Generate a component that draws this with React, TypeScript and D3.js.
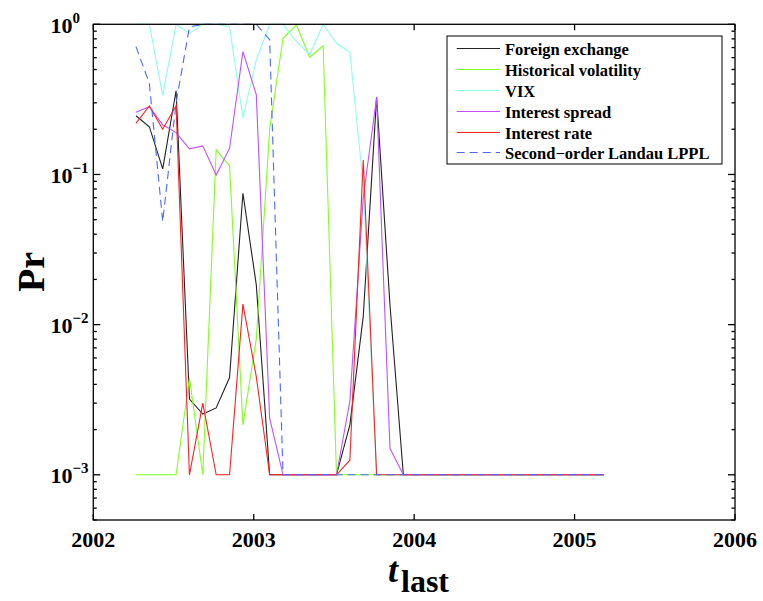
import React from "react";
import * as d3 from "d3";

const W = 763;
const H = 601;
const M = { left: 93.3, right: 735, top: 24.3, bottom: 520 };

const T0 = 2002.266;
const N = 36;
const times: number[] = Array.from({ length: N }, (_, i) => T0 + i / 12);

const foreignExchange = [0.246, 0.208, 0.109, 0.361, 0.00319, 0.00254, 0.00279, 0.00444, 0.075, 0.0184, 0.001, 0.001, 0.001, 0.001, 0.001, 0.001, 0.00215, 0.0113, 0.327, 0.0135, 0.001, 0.001, 0.001, 0.001, 0.001, 0.001, 0.001, 0.001, 0.001, 0.001, 0.001, 0.001, 0.001, 0.001, 0.001, 0.001];
const historicalVolatility = [0.001, 0.001, 0.001, 0.001, 0.0044, 0.001, 0.146, 0.114, 0.00215, 0.008, 0.2, 0.807, 0.99, 0.603, 0.72, 0.001, 0.001, 0.001, 0.001, 0.001, 0.001, 0.001, 0.001, 0.001, 0.001, 0.001, 0.001, 0.001, 0.001, 0.001, 0.001, 0.001, 0.001, 0.001, 0.001, 0.001];
const vix = [1, 1, 0.336, 1, 0.87, 1, 1, 0.96, 0.239, 0.58, 1, 1, 0.77, 0.63, 1, 0.747, 0.651, 0.085, 0.001, 0.001, 0.001, 0.001, 0.001, 0.001, 0.001, 0.001, 0.001, 0.001, 0.001, 0.001, 0.001, 0.001, 0.001, 0.001, 0.001, 0.001];
const interestSpread = [0.26, 0.283, 0.214, 0.19, 0.148, 0.155, 0.099, 0.149, 0.657, 0.34, 0.00238, 0.001, 0.001, 0.001, 0.001, 0.001, 0.0031, 0.07, 0.327, 0.0015, 0.001, 0.001, 0.001, 0.001, 0.001, 0.001, 0.001, 0.001, 0.001, 0.001, 0.001, 0.001, 0.001, 0.001, 0.001, 0.001];
const interestRate = [0.219, 0.286, 0.2, 0.287, 0.001, 0.003, 0.001, 0.001, 0.0137, 0.0045, 0.001, 0.001, 0.001, 0.001, 0.001, 0.001, 0.00125, 0.125, 0.001, 0.001, 0.001, 0.001, 0.001, 0.001, 0.001, 0.001, 0.001, 0.001, 0.001, 0.001, 0.001, 0.001, 0.001, 0.001, 0.001, 0.001];
const landauLPPL = [0.71, 0.405, 0.0485, 0.3, 0.96, 1, 1, 1, 1, 1, 0.79, 0.001, 0.001, 0.001, 0.001, 0.001, 0.001, 0.001, 0.001, 0.001, 0.001, 0.001, 0.001, 0.001, 0.001, 0.001, 0.001, 0.001, 0.001, 0.001, 0.001, 0.001, 0.001, 0.001, 0.001, 0.001];

const seriesNames = ["Foreign exchange", "Historical volatility", "VIX", "Interest spread", "Interest rate", "Second\u2212order Landau LPPL"];
const seriesValues = [foreignExchange, historicalVolatility, vix, interestSpread, interestRate, landauLPPL];
const seriesColors = ["#222222", "#80ff20", "#8cffe6", "#c050ff", "#ff2020", "#4a68ff"];
const seriesDash = [null, null, null, null, null, "8,5"];

const xTicks = [2002, 2003, 2004, 2005, 2006];
const yMajor = [1e-3, 1e-2, 1e-1, 1];
const yExps = ["\u22123", "\u22122", "\u22121", "0"];

export default function App() {
  const x = d3.scaleLinear().domain([2002, 2006]).range([M.left, M.right]);
  const y = d3.scaleLog().domain([5e-4, 1]).range([M.bottom, M.top]);

  const line = d3
    .line<number>()
    .x((_, i) => x(times[i]))
    .y((v) => y(v));

  const minor: number[] = [];
  for (let e = -4; e <= 0; e++) {
    for (let k = 2; k <= 9; k++) {
      const v = k * Math.pow(10, e);
      if (v >= 5e-4 && v < 1) minor.push(v);
    }
  }

  const font = "'Liberation Serif', 'Times New Roman', serif";
  const axisW = 1.3;

  const legX = 447;
  const legY = 36;
  const legW = 275;
  const legH = 128;
  const rowY = (i: number) => Math.round(48.3 + i * 20.8) + 0.5;

  return (
    <svg
      width={W}
      height={H}
      style={{ position: "absolute", left: 0, top: 0, background: "#fff", fontFamily: font }}
    >
      <rect x={0} y={0} width={W} height={H} fill="#fff" />
      {seriesValues.map((vals, si) => (
        <path
          key={si}
          d={line(vals) || ""}
          fill="none"
          stroke={seriesColors[si]}
          strokeWidth={1.1}
          strokeDasharray={seriesDash[si] || undefined}
        />
      ))}
      <rect
        x={M.left}
        y={M.top}
        width={M.right - M.left}
        height={M.bottom - M.top}
        fill="none"
        stroke="#000"
        strokeWidth={axisW}
      />
      {xTicks.map((t) => (
        <g key={t}>
          <line x1={x(t)} x2={x(t)} y1={M.bottom} y2={M.bottom - 6} stroke="#000" strokeWidth={axisW} />
          <line x1={x(t)} x2={x(t)} y1={M.top} y2={M.top + 6} stroke="#000" strokeWidth={axisW} />
          <text x={x(t)} y={547} textAnchor="middle" fontSize={22} fontWeight="bold">
            {t}
          </text>
        </g>
      ))}
      {yMajor.map((v, i) => (
        <g key={v}>
          <line x1={M.left} x2={M.left + 7} y1={y(v)} y2={y(v)} stroke="#000" strokeWidth={axisW} />
          <line x1={M.right} x2={M.right - 7} y1={y(v)} y2={y(v)} stroke="#000" strokeWidth={axisW} />
          <text x={50.5} y={y(v) + 8.5} fontSize={22} fontWeight="bold">
            10
            <tspan dy={-10} fontSize={15}>
              {yExps[i]}
            </tspan>
          </text>
        </g>
      ))}
      {minor.map((v) => (
        <g key={v}>
          <line x1={M.left} x2={M.left + 3.5} y1={y(v)} y2={y(v)} stroke="#000" strokeWidth={axisW} />
          <line x1={M.right} x2={M.right - 3.5} y1={y(v)} y2={y(v)} stroke="#000" strokeWidth={axisW} />
        </g>
      ))}
      <text
        transform={`translate(44, 272) rotate(-90)`}
        textAnchor="middle"
        fontSize={38}
        fontWeight="bold"
      >
        Pr
      </text>
      <text x={388} y={582} fontSize={36} fontWeight="bold" fontStyle="italic">
        t
        <tspan dx={3} dy={10} fontSize={32} fontStyle="normal">
          last
        </tspan>
      </text>
      <rect x={legX} y={legY} width={legW} height={legH} fill="#fff" stroke="#000" strokeWidth={1} />
      {seriesNames.map((name, i) => (
        <g key={name}>
          <line
            x1={456.7}
            x2={500}
            y1={rowY(i)}
            y2={rowY(i)}
            stroke={seriesColors[i]}
            strokeWidth={1}
            strokeDasharray={seriesDash[i] || undefined}
          />
          <text x={505} y={rowY(i) + 6} fontSize={16.5} fontWeight="bold">
            {name}
          </text>
        </g>
      ))}
    </svg>
  );
}
